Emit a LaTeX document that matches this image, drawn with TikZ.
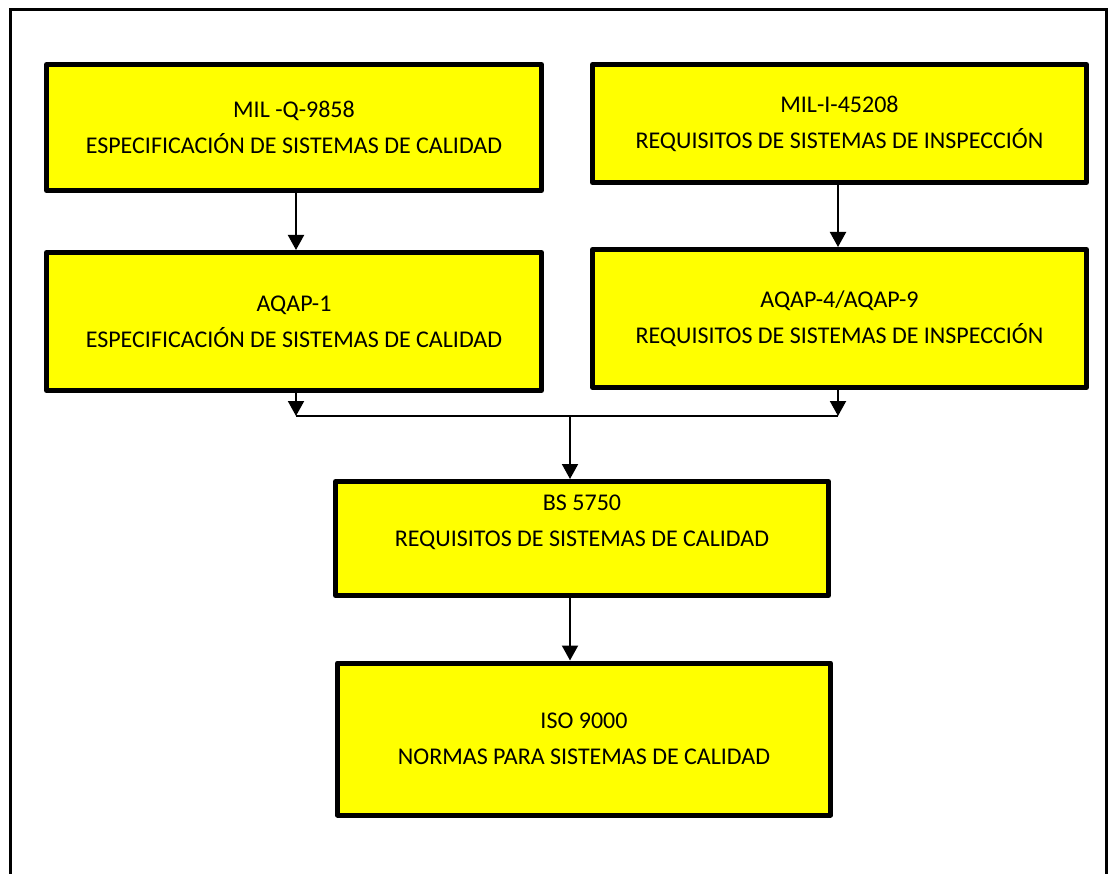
\documentclass[tikz,border=0pt]{standalone}
\usepackage{fontspec}
\setmainfont{Carlito}
\usetikzlibrary{arrows.meta}
\definecolor{boxyellow}{RGB}{255,255,0}
\begin{document}
\begin{tikzpicture}[x=1pt,y=-1pt,
  box/.style={draw=black, fill=boxyellow, line width=5pt, line join=round,
    align=center, inner sep=0pt, font=\fontsize{24}{36}\selectfont},
  arr/.style={line width=2pt, -{Triangle[length=15pt,width=16pt]}},
  link/.style={line width=2pt}]
\useasboundingbox (0,0) rectangle (1113,874);
% outer frame (its lower edge runs below the page)
\draw[line width=3pt] (10,874) -- (10,10) -- (1106,10) -- (1106,874);

% standards
\node[box, minimum width=495pt, minimum height=126pt] (b1) at (294,127.5)
  {MIL -Q-9858\\ESPECIFICACIÓN DE SISTEMAS DE CALIDAD};
\node[box, minimum width=494pt, minimum height=118pt] (b2) at (839.5,123.5)
  {MIL-I-45208\\REQUISITOS DE SISTEMAS DE INSPECCIÓN};
\node[box, minimum width=495pt, minimum height=138pt] (b3) at (294,321.5)
  {AQAP-1\\ESPECIFICACIÓN DE SISTEMAS DE CALIDAD};
\node[box, minimum width=494pt, minimum height=138pt] (b4) at (839.5,318.5)
  {AQAP-4/AQAP-9\\REQUISITOS DE SISTEMAS DE INSPECCIÓN};
\node[box, minimum width=493pt, minimum height=114pt] (b5) at (582,538.5)
  {BS 5750\\REQUISITOS DE SISTEMAS DE CALIDAD\\\mbox{}};
\node[box, minimum width=493pt, minimum height=152pt] (b6) at (584,739)
  {ISO 9000\\NORMAS PARA SISTEMAS DE CALIDAD};

% junction points
\coordinate (j1) at (296,416);
\coordinate (j2) at (838,416);
\coordinate (jm) at (570,416);

% connectors
\draw[arr] (b1.south -| j1) -- (b3.north -| j1);
\draw[arr] (b2.south -| j2) -- (b4.north -| j2);
\draw[arr] (b3.south -| j1) -- (j1);
\draw[arr] (b4.south -| j2) -- (j2);
\draw[link] (j1) -- (j2);
\draw[arr] (jm) -- (b5.north -| jm);
\draw[arr] (b5.south -| jm) -- (b6.north -| jm);
\end{tikzpicture}
\end{document}
